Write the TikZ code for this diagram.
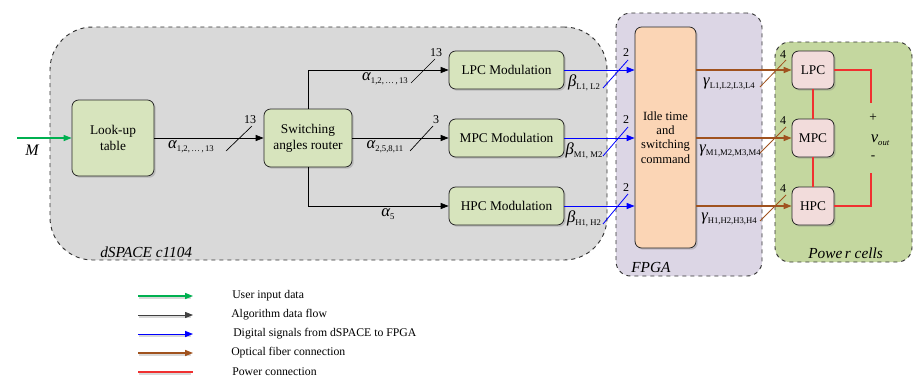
\documentclass[tikz,border=0pt]{standalone}
\usepackage{fontspec}
\setmainfont{Liberation Serif}
\usetikzlibrary{arrows.meta,shadows}
\definecolor{dsp}{HTML}{D9D9D9}
\definecolor{fpg}{HTML}{DCD6E5}
\definecolor{pwr}{HTML}{C4D79F}
\definecolor{gbox}{HTML}{D7E4BD}
\definecolor{obox}{HTML}{FBD5B5}
\definecolor{pbox}{HTML}{F2DCDB}
\definecolor{ugreen}{HTML}{00B050}
\definecolor{ublue}{HTML}{0000FF}
\definecolor{ubrown}{HTML}{A0521E}
\definecolor{ured}{HTML}{F03030}
\newcommand\glab[2]{{\fontsize{12.5}{12}\selectfont\itshape #1}{\fontsize{6.5}{6}\selectfont\raisebox{-2pt}{#2}}}
\begin{document}
\begin{tikzpicture}[x=0.75pt,y=-0.75pt,
  region/.style={draw=black!80,dashed,line width=0.7pt,inner sep=0pt,rectangle},
  box/.style={draw=black!85,line width=0.6pt,rounded corners=5pt,inner sep=0pt,
    align=center,font=\fontsize{10}{12}\selectfont,
    drop shadow={opacity=0.35,shadow xshift=1.3pt,shadow yshift=-1.3pt}},
  modbox/.style={box,fill=gbox,minimum width=86.25pt,minimum height=28.5pt},
  cellbox/.style={box,fill=pbox,minimum width=31.5pt,minimum height=28.5pt},
  tip/.style={-{Triangle[length=6pt,width=4.6pt]}},
  alg/.style={tip,draw=black,line width=0.6pt},
  usr/.style={tip,draw=ugreen,line width=0.8pt},
  dig/.style={tip,draw=ublue,line width=0.75pt},
  opt/.style={tip,draw=ubrown,line width=0.8pt},
  pw/.style={draw=ured,line width=0.9pt},
  num/.style={font=\fontsize{9}{9}\selectfont,inner sep=0pt},
  lbl/.style={inner sep=0pt},
  reg/.style={font=\fontsize{11.5}{12}\selectfont\itshape,inner sep=0pt,anchor=base west},
  leg/.style={font=\fontsize{8.8}{10}\selectfont,inner sep=0pt,anchor=west}]
\useasboundingbox (0,0) rectangle (913,379);

% regions
\node[region,fill=dsp,rounded corners=32pt,minimum width=417.75pt,minimum height=174.75pt] (dsp) at (328.5,143.5) {};
\node[region,fill=fpg,rounded corners=11pt,minimum width=109.5pt,minimum height=197.25pt] (fpga) at (689,144.5) {};
\node[region,fill=pwr,rounded corners=11pt,minimum width=102.75pt,minimum height=165pt] (pc) at (843.5,152) {};
\node[reg] (ldsp) at (100,257) {dSPACE c1104};
\node[reg] (lfpga) at (631,272) {FPGA};
\node[reg] (lpow) at (808,258) {Powe\,r cells};

% boxes
\node[box,fill=gbox,minimum width=61.5pt,minimum height=57pt] (lut) at (113,138) {Look-up\\table};
\node[box,fill=gbox,minimum width=66pt,minimum height=43.5pt] (sw) at (308,138) {Switching\\angles router};
\node[modbox] (lpcm) at (506.5,70) {LPC Modulation};
\node[modbox] (mpcm) at (506.5,138) {MPC Modulation};
\node[modbox] (hpcm) at (506.5,206) {HPC Modulation};
\node[box,fill=obox,minimum width=45.75pt,minimum height=165.75pt,font=\fontsize{9.4}{10.8}\selectfont] (idle) at (665.5,137.5) {Idle time\\and\\switching\\command};
\node[cellbox] (lpc) at (813,70) {LPC};
\node[cellbox] (mpc) at (813,138) {MPC};
\node[cellbox] (hpc) at (813,206) {HPC};

% input
\coordinate (min) at (17,138);
\draw[usr] (min) -- (lut.west);
\node[lbl,font=\fontsize{12}{12}\selectfont\itshape] (m) at (32,150) {M};

% algorithm flow
\draw[alg] (lut) -- (sw);
\draw[alg] (sw.north) |- (lpcm.west);
\draw[alg] (sw) -- (mpcm);
\draw[alg] (sw.south) |- (hpcm.west);
\node[lbl] (a1) at (191,147) {\glab{α}{1,2,\,…\,,\,13}};
\node[lbl] (a2) at (385,79) {\glab{α}{1,2,\,…\,,\,13}};
\node[lbl] (a3) at (385,147) {\glab{α}{2,5,8,11}};
\node[lbl] (a4) at (388,214) {\glab{α}{5}};
\draw[black,line width=0.5pt] (226,151) -- (252,126);
\draw[black,line width=0.5pt] (411,83) -- (435,59);
\draw[black,line width=0.5pt] (410,151) -- (433,126);
\node[num] (n1) at (250,120) {13};
\node[num] (n2) at (436,53) {13};
\node[num] (n3) at (436,120) {3};

% digital signals
\draw[dig] (lpcm.east) -- (lpcm.east -| idle.west);
\draw[dig] (mpcm.east) -- (mpcm.east -| idle.west);
\draw[dig] (hpcm.east) -- (hpcm.east -| idle.west);
\node[lbl] (b1) at (584,83) {\glab{β}{L1, L2}};
\node[lbl] (b2) at (584,151) {\glab{β}{M1, M2}};
\node[lbl] (b3) at (584,219) {\glab{β}{H1, H2}};
\draw[ublue,line width=0.6pt] (603,88) -- (628,60);
\draw[ublue,line width=0.6pt] (603,156) -- (628,127);
\draw[ublue,line width=0.6pt] (603,224) -- (628,194);
\node[num] (n4) at (626,53) {2};
\node[num] (n5) at (626,120) {2};
\node[num] (n6) at (626,188) {2};

% optical fiber
\draw[opt] (idle.east |- lpc) -- (lpc.west);
\draw[opt] (idle.east |- mpc) -- (mpc.west);
\draw[opt] (idle.east |- hpc) -- (hpc.west);
\node[lbl] (g1) at (729,84) {\glab{γ}{L1,L2,L3,L4}};
\node[lbl] (g2) at (730,151) {\glab{γ}{M1,M2,M3,M4}};
\node[lbl] (g3) at (729,219) {\glab{γ}{H1,H2,H3,H4}};
\draw[ubrown,line width=0.6pt] (760,87) -- (786,60);
\draw[ubrown,line width=0.6pt] (760,153) -- (786,127);
\draw[ubrown,line width=0.6pt] (760,221) -- (786,195);
\node[num] (n7) at (783,55) {4};
\node[num] (n8) at (783,121) {4};
\node[num] (n9) at (783,189) {4};

% power
\coordinate (vtop) at (871,103);
\coordinate (vbot) at (871,173);
\draw[pw] (lpc.east) -| (vtop);
\draw[pw] (hpc.east) -| (vbot);
\draw[pw] (lpc.south) -- (mpc.north);
\draw[pw] (mpc.south) -- (hpc.north);
\node[lbl,font=\fontsize{10}{10}\selectfont] (plus) at (873,118) {+};
\node[lbl] (vout) at (880,140) {{\fontsize{12.5}{12}\selectfont\itshape v}{\fontsize{6.5}{6}\selectfont\itshape\raisebox{-2pt}{out}}};
\node[lbl,font=\fontsize{10}{10}\selectfont] (minus) at (873,158) {-};

% legend
\foreach \y in {296,315,334,353,372}{
  \draw[black!50,line width=1.6pt,opacity=0.3] (139,\y+2) -- (191,\y+2);
}
\coordinate (l1a) at (138,296); \coordinate (l1b) at (193,296);
\coordinate (l2a) at (138,315); \coordinate (l2b) at (193,315);
\coordinate (l3a) at (138,334); \coordinate (l3b) at (193,334);
\coordinate (l4a) at (138,353); \coordinate (l4b) at (193,353);
\coordinate (l5a) at (138,372); \coordinate (l5b) at (193,372);
\draw[usr] (l1a) -- (l1b);
\draw[alg,draw=black!75] (l2a) -- (l2b);
\draw[dig] (l3a) -- (l3b);
\draw[opt] (l4a) -- (l4b);
\draw[pw] (l5a) -- (l5b);
\node[leg] (t1) at (232,296) {User input data};
\node[leg] (t2) at (231,315) {Algorithm data flow};
\node[leg] (t3) at (233,334) {Digital signals from dSPACE to FPGA};
\node[leg] (t4) at (231,353) {Optical fiber connection};
\node[leg] (t5) at (232,372) {Power connection};
\end{tikzpicture}
\end{document}
